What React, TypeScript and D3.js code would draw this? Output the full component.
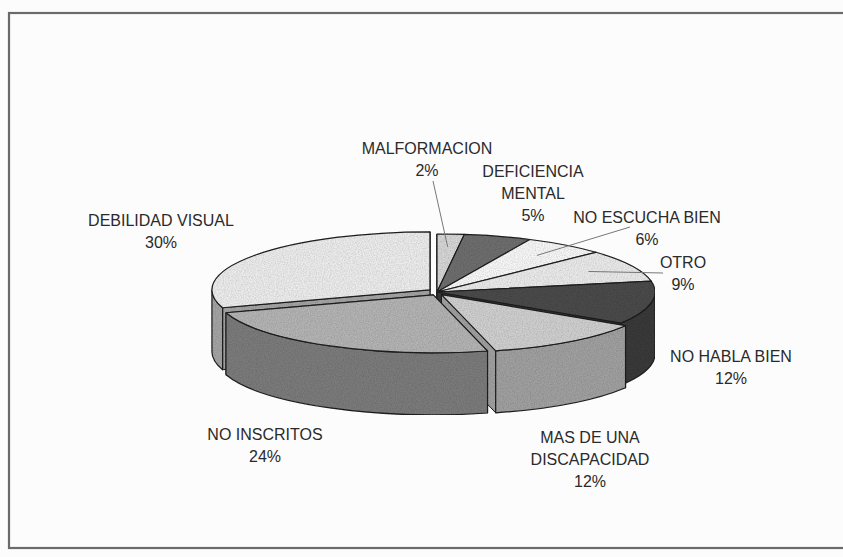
import { pie, PieArcDatum } from "d3";

// slices clockwise from 12 o'clock
const categories = [
    "MALFORMACION",
    "DEFICIENCIA MENTAL",
    "NO ESCUCHA BIEN",
    "OTRO",
    "NO HABLA BIEN",
    "MAS DE UNA DISCAPACIDAD",
    "NO INSCRITOS",
    "DEBILIDAD VISUAL",
];
const values = [2, 5, 6, 9, 12, 12, 24, 30];
const labelLines = [
    ["MALFORMACION", "2%"],
    ["DEFICIENCIA", "MENTAL", "5%"],
    ["NO ESCUCHA BIEN", "6%"],
    ["OTRO", "9%"],
    ["NO HABLA BIEN", "12%"],
    ["MAS DE UNA", "DISCAPACIDAD", "12%"],
    ["NO INSCRITOS", "24%"],
    ["DEBILIDAD VISUAL", "30%"],
];

// look
const topColors = ["#d6d6d6", "#6e6e6e", "#f7f7f7", "#eaeaea", "#4c4c4c", "#cfcfcf", "#b4b4b4", "#ececec"];
const sideColors = ["#a8a8a8", "#555555", "#cccccc", "#bbbbbb", "#3a3a3a", "#a0a0a0", "#7c7c7c", "#a4a4a4"];
const explode = [0, 0, 0, 0, 0, 0.035, 0.035, 0.04];
// label anchor: centre x, first baseline
const labelAt: [number, number][] = [
    [427, 154],
    [533, 177],
    [647, 223],
    [683, 268],
    [731, 362],
    [590, 443],
    [265, 440],
    [161, 226],
];
const leaderFrom: ([number, number] | null)[] = [
    [433, 181],
    null,
    [630, 227],
    [663, 273],
    null,
    null,
    null,
    null,
];

const cx = 437;
const cy = 292;
const rx = 218;
const ry = 58;
const depth = 62;

type Arc = PieArcDatum<number>;

function pt(a: number, r: number, ox: number, oy: number, dz = 0): [number, number] {
    return [cx + ox + rx * r * Math.sin(a), cy + oy - ry * r * Math.cos(a) + dz];
}

function topPath(d: Arc, ox: number, oy: number) {
    const [x0, y0] = pt(d.startAngle, 1, ox, oy);
    const [x1, y1] = pt(d.endAngle, 1, ox, oy);
    const large = d.endAngle - d.startAngle > Math.PI ? 1 : 0;
    return `M${cx + ox},${cy + oy}L${x0},${y0}A${rx},${ry} 0 ${large} 1 ${x1},${y1}Z`;
}

function outerWall(a0: number, a1: number, ox: number, oy: number) {
    const b0 = Math.max(a0, Math.PI / 2);
    const b1 = Math.min(a1, (3 * Math.PI) / 2);
    if (b1 <= b0) return null;
    const [x0, y0] = pt(b0, 1, ox, oy);
    const [x1, y1] = pt(b1, 1, ox, oy);
    return `M${x0},${y0}A${rx},${ry} 0 0 1 ${x1},${y1}L${x1},${y1 + depth}A${rx},${ry} 0 0 0 ${x0},${y0 + depth}Z`;
}

function radialWall(a: number, ox: number, oy: number) {
    const [x, y] = pt(a, 1, ox, oy);
    const ax = cx + ox;
    const ay = cy + oy;
    return {
        d: `M${ax},${ay}L${x},${y}L${x},${y + depth}L${ax},${ay + depth}Z`,
        key: (ay + y) / 2,
    };
}

export default function App() {
    const arcs = pie<number>().sort(null).value((v) => v)(values);

    const offs = arcs.map((d, i) => {
        const mid = (d.startAngle + d.endAngle) / 2;
        return [explode[i] * rx * Math.sin(mid), -explode[i] * ry * 1.6 * Math.cos(mid)];
    });

    const radials = arcs
        .flatMap((d, i) => [
            { ...radialWall(d.startAngle, offs[i][0], offs[i][1]), i },
            { ...radialWall(d.endAngle, offs[i][0], offs[i][1]), i },
        ])
        .sort((a, b) => a.key - b.key);

    const stroke = "#222";

    return (
        <svg
            width={843}
            height={557}
            style={{ position: "absolute", left: 0, top: 0, background: "#fcfcfd" }}
            fontFamily="'Liberation Sans', Arial, sans-serif"
        >
            <defs>
                {/* scanner grain */}
                <filter id="grain" x="0" y="0" width="100%" height="100%">
                    <feTurbulence type="fractalNoise" baseFrequency="0.85" numOctaves={2} seed={3} result="n" />
                    <feColorMatrix
                        in="n"
                        type="matrix"
                        values="0 0 0 0 0  0 0 0 0 0  0 0 0 0 0  0.5 0 0 0 -0.16"
                        result="g"
                    />
                    <feComposite in="g" in2="SourceGraphic" operator="in" result="gc" />
                    <feMerge>
                        <feMergeNode in="SourceGraphic" />
                        <feMergeNode in="gc" />
                    </feMerge>
                </filter>
            </defs>
            <rect x={9} y={13} width={900} height={535} fill="none" stroke="#6a6a6a" strokeWidth={2.2} />

            <g filter="url(#grain)">
                {radials.map((w, k) => (
                    <path key={`r${k}`} d={w.d} fill={sideColors[w.i]} stroke={stroke} strokeWidth={1} strokeLinejoin="round" />
                ))}
                {arcs.map((d, i) => {
                    const p = outerWall(d.startAngle, d.endAngle, offs[i][0], offs[i][1]);
                    return p ? (
                        <path key={`o${i}`} d={p} fill={sideColors[i]} stroke={stroke} strokeWidth={1.2} strokeLinejoin="round" />
                    ) : null;
                })}
                {arcs.map((d, i) => (
                    <path
                        key={`t${i}`}
                        d={topPath(d, offs[i][0], offs[i][1])}
                        fill={topColors[i]}
                        stroke={stroke}
                        strokeWidth={1.2}
                        strokeLinejoin="round"
                    />
                ))}
            </g>

            {arcs.map((d, i) => {
                const from = leaderFrom[i];
                if (!from) return null;
                const mid = (d.startAngle + d.endAngle) / 2;
                const [x, y] = pt(mid, 0.78, offs[i][0], offs[i][1]);
                return <line key={`l${i}`} x1={from[0]} y1={from[1]} x2={x} y2={y} stroke="#777" strokeWidth={1} />;
            })}

            {categories.map((c, i) => (
                <text key={c} x={labelAt[i][0]} y={labelAt[i][1]} textAnchor="middle" fontSize={16} fill="#2a2a2a">
                    {labelLines[i].map((line, j) => (
                        <tspan key={j} x={labelAt[i][0]} dy={j === 0 ? 0 : 22}>
                            {line}
                        </tspan>
                    ))}
                </text>
            ))}
        </svg>
    );
}
